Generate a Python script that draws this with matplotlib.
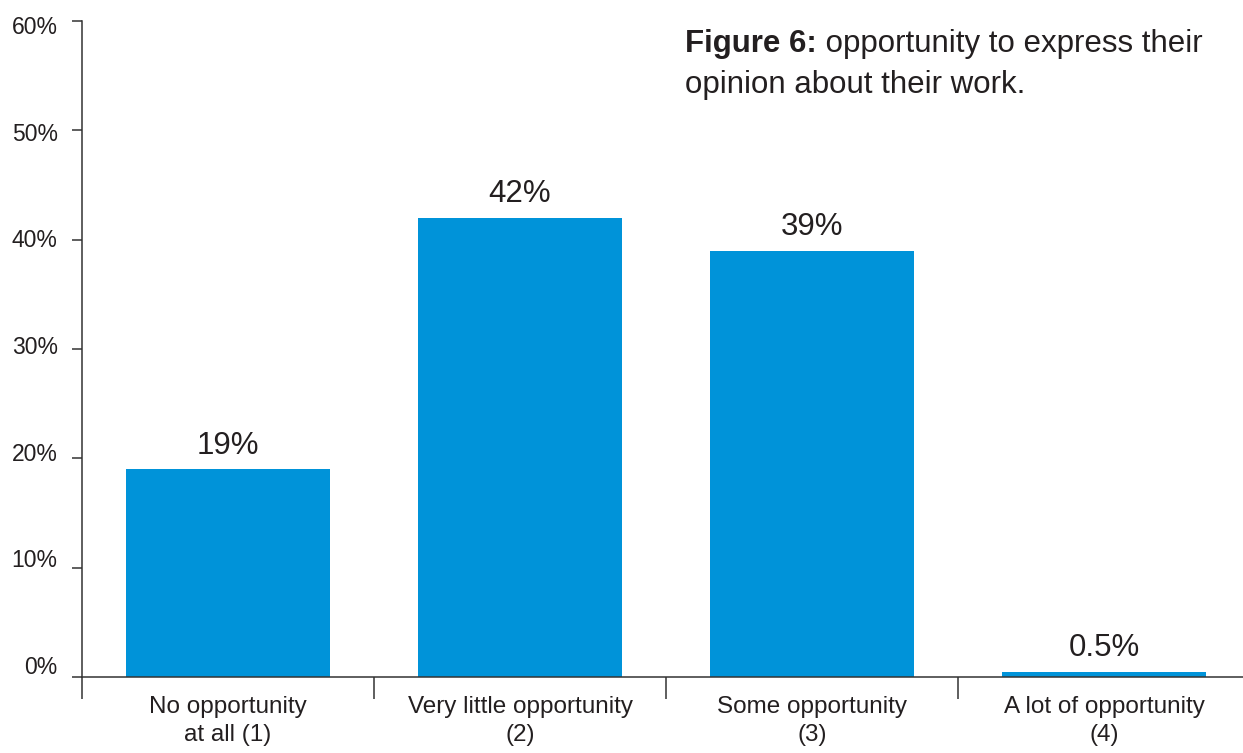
import matplotlib.pyplot as plt
import matplotlib.transforms as mtransforms

plt.rcParams['font.family'] = ['Liberation Sans', 'DejaVu Sans']

# Survey answers and shares (%)
categories = ['No opportunity\nat all (1)', 'Very little opportunity\n(2)',
              'Some opportunity\n(3)', 'A lot of opportunity\n(4)']
values = [19, 42, 39, 0.5]
value_labels = ['19%', '42%', '39%', '0.5%']
yticks = [0, 10, 20, 30, 40, 50, 60]

bar_color = '#0093d9'
text_color = '#231f20'
axis_color = '#333333'

W, H = 1243, 753
fig = plt.figure(figsize=(W / 100, H / 100), dpi=100)
ax = fig.add_axes([82 / W, (H - 677) / H, 1168 / W, 656 / H])

x = range(len(categories))
ax.bar(x, values, width=0.7, color=bar_color, zorder=2)

for xi, v, lab in zip(x, values, value_labels):
    ax.annotate(lab, (xi, v), xytext=(0, 6), textcoords='offset points',
                ha='center', va='bottom', fontsize=22.5, color=text_color)

ax.set_xlim(-0.5, 3.5)
ax.set_ylim(0, 60)

# y axis
ax.set_yticks(yticks)
ax.set_yticklabels([f'{t}%' for t in yticks], fontsize=16.5, color=text_color)
ax.tick_params(axis='y', direction='out', length=7.5, width=1.1,
               color=axis_color, pad=10)
# labels sit a little above their ticks near the bottom, slightly below at the top
for t, lbl in zip(yticks, ax.get_yticklabels()):
    dy = (12 - t * 16 / 60) / 100
    lbl.set_transform(lbl.get_transform() +
                      mtransforms.ScaledTranslation(0, dy, fig.dpi_scale_trans))

# x axis: separators as major ticks, category names as minor ticks
ax.set_xticks([-0.5, 0.5, 1.5, 2.5, 3.5])
ax.set_xticklabels([])
ax.set_xticks(list(x), minor=True)
ax.set_xticklabels(categories, minor=True, fontsize=17.5, color=text_color,
                   linespacing=1.3)
ax.tick_params(axis='x', which='major', direction='out', length=16,
               width=1.1, color=axis_color)
ax.tick_params(axis='x', which='minor', length=0, pad=14)

for side in ['top', 'right']:
    ax.spines[side].set_visible(False)
for side in ['left', 'bottom']:
    ax.spines[side].set_linewidth(1.1)
    ax.spines[side].set_color(axis_color)

# heading
t1 = fig.text(685 / W, 1 - 59 / H, 'Figure 6:', fontsize=22.5,
              fontweight='bold', color=text_color, va='bottom', ha='left')
ax.annotate(' opportunity to express their', xy=(1, 0), xycoords=t1,
            va='bottom', ha='left', fontsize=22.5, color=text_color)
fig.text(685 / W, 1 - 100 / H, 'opinion about their work.', fontsize=22.5,
         color=text_color, va='bottom', ha='left')

fig.savefig('out.png', dpi=100)
